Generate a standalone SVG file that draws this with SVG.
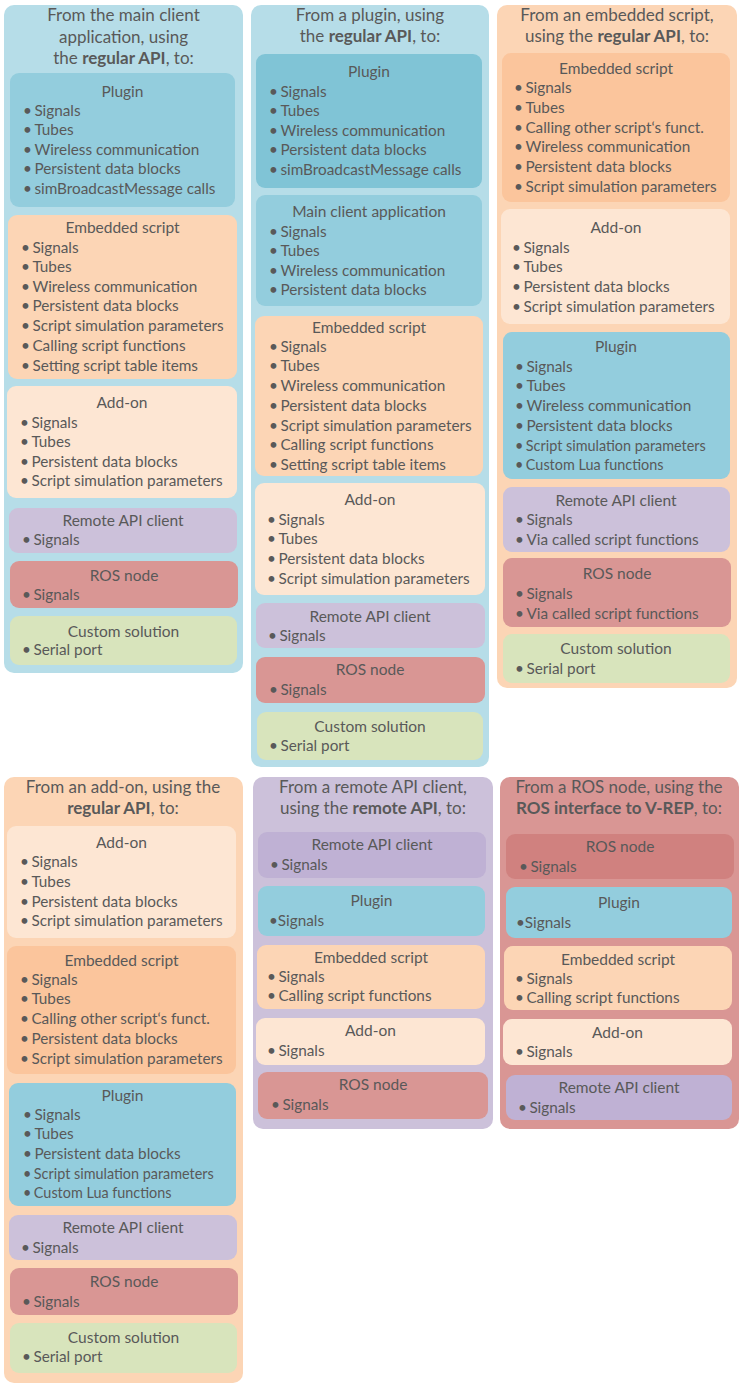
<svg xmlns="http://www.w3.org/2000/svg" width="740" height="1387" viewBox="0 0 740 1387">
<style>
text{font-family:Lato,"Liberation Sans",sans-serif;fill:#595959}
.ti{font-size:17px;text-anchor:middle}
.h{font-size:15.5px;text-anchor:middle}
.i{font-size:15.3px}
.s{font-size:14.4px}
.b{font-weight:bold}
rect{rx:9px;ry:9px}
.o{rx:10px;ry:10px}
.blue0{fill:#b6dde8}.blue1{fill:#93cddd}.blue2{fill:#80c4d6}
.or0{fill:#fcd5b5}.or1{fill:#fbc59c}.pe{fill:#fde6d3}
.pu0{fill:#ccc1da}.pu1{fill:#bfb1d4}
.ro0{fill:#d99694}.ro1{fill:#d0817f}
.gr{fill:#d8e4bc}
</style>
<rect width="740" height="1387" fill="#ffffff" style="rx:0"/>

<g id="col-main-client">
<rect class="o blue0" x="4" y="5" width="239" height="668"/>
<text class="ti" x="123.5" y="21">From the main client</text>
<text class="ti" x="123.5" y="43">application, using</text>
<text class="ti" x="123.5" y="64">the <tspan class="b">regular API</tspan>, to:</text>
<g id="mc-plugin"><rect class="blue1" x="10" y="73" width="225" height="134"/>
<text class="h" x="122.5" y="97">Plugin</text>
<text class="i" x="23" y="116">•<tspan dx="2.5">Signals</tspan></text><text class="i" x="23" y="135">•<tspan dx="2.5">Tubes</tspan></text><text class="i" x="23" y="155">•<tspan dx="2.5">Wireless communication</tspan></text><text class="i" x="23" y="174">•<tspan dx="2.5">Persistent data blocks</tspan></text><text class="i" x="23" y="194">•<tspan dx="2.5">simBroadcastMessage calls</tspan></text></g>
<g id="mc-embedded"><rect class="or0" x="8" y="215" width="229" height="164"/>
<text class="h" x="122.5" y="233">Embedded script</text>
<text class="i" x="21" y="253">•<tspan dx="2.5">Signals</tspan></text><text class="i" x="21" y="272">•<tspan dx="2.5">Tubes</tspan></text><text class="i" x="21" y="292">•<tspan dx="2.5">Wireless communication</tspan></text><text class="i" x="21" y="311">•<tspan dx="2.5">Persistent data blocks</tspan></text><text class="i" x="21" y="331">•<tspan dx="2.5">Script simulation parameters</tspan></text><text class="i" x="21" y="351">•<tspan dx="2.5">Calling script functions</tspan></text><text class="i" x="21" y="371">•<tspan dx="2.5">Setting script table items</tspan></text></g>
<g id="mc-addon"><rect class="pe" x="7" y="386" width="230" height="112"/>
<text class="h" x="122" y="408">Add-on</text>
<text class="i" x="20" y="428">•<tspan dx="2.5">Signals</tspan></text><text class="i" x="20" y="447">•<tspan dx="2.5">Tubes</tspan></text><text class="i" x="20" y="467">•<tspan dx="2.5">Persistent data blocks</tspan></text><text class="i" x="20" y="486">•<tspan dx="2.5">Script simulation parameters</tspan></text></g>
<g id="mc-remote"><rect class="pu0" x="9" y="508" width="228" height="45"/>
<text class="h" x="123" y="526">Remote API client</text><text class="i" x="22" y="545">•<tspan dx="2.5">Signals</tspan></text></g>
<g id="mc-ros"><rect class="ro0" x="10" y="561" width="228" height="47"/>
<text class="h" x="124" y="581">ROS node</text><text class="i" x="22" y="600">•<tspan dx="2.5">Signals</tspan></text></g>
<g id="mc-custom"><rect class="gr" x="10" y="616" width="227" height="49"/>
<text class="h" x="123.5" y="637">Custom solution</text><text class="i" x="22" y="655">•<tspan dx="2.5">Serial port</tspan></text></g>
</g>

<g id="col-plugin">
<rect class="o blue0" x="251" y="5" width="238" height="762"/>
<text class="ti" x="370" y="21">From a plugin, using</text>
<text class="ti" x="370" y="42">the <tspan class="b">regular API</tspan>, to:</text>
<g id="pl-plugin"><rect class="blue2" x="256" y="54" width="226" height="134"/>
<text class="h" x="369" y="77">Plugin</text>
<text class="i" x="269" y="97">•<tspan dx="2.5">Signals</tspan></text><text class="i" x="269" y="116">•<tspan dx="2.5">Tubes</tspan></text><text class="i" x="269" y="136">•<tspan dx="2.5">Wireless communication</tspan></text><text class="i" x="269" y="155">•<tspan dx="2.5">Persistent data blocks</tspan></text><text class="i" x="269" y="175">•<tspan dx="2.5">simBroadcastMessage calls</tspan></text></g>
<g id="pl-main"><rect class="blue1" x="256" y="195" width="226" height="111"/>
<text class="h" x="369" y="217">Main client application</text>
<text class="i" x="269" y="237">•<tspan dx="2.5">Signals</tspan></text><text class="i" x="269" y="256">•<tspan dx="2.5">Tubes</tspan></text><text class="i" x="269" y="276">•<tspan dx="2.5">Wireless communication</tspan></text><text class="i" x="269" y="295">•<tspan dx="2.5">Persistent data blocks</tspan></text></g>
<g id="pl-embedded"><rect class="or0" x="255" y="316" width="228" height="160"/>
<text class="h" x="369" y="333">Embedded script</text>
<text class="i" x="269" y="352">•<tspan dx="2.5">Signals</tspan></text><text class="i" x="269" y="371">•<tspan dx="2.5">Tubes</tspan></text><text class="i" x="269" y="391">•<tspan dx="2.5">Wireless communication</tspan></text><text class="i" x="269" y="411">•<tspan dx="2.5">Persistent data blocks</tspan></text><text class="i" x="269" y="431">•<tspan dx="2.5">Script simulation parameters</tspan></text><text class="i" x="269" y="450">•<tspan dx="2.5">Calling script functions</tspan></text><text class="i" x="269" y="470">•<tspan dx="2.5">Setting script table items</tspan></text></g>
<g id="pl-addon"><rect class="pe" x="255" y="483" width="230" height="112"/>
<text class="h" x="370" y="505">Add-on</text>
<text class="i" x="267" y="525">•<tspan dx="2.5">Signals</tspan></text><text class="i" x="267" y="544">•<tspan dx="2.5">Tubes</tspan></text><text class="i" x="267" y="564">•<tspan dx="2.5">Persistent data blocks</tspan></text><text class="i" x="267" y="584">•<tspan dx="2.5">Script simulation parameters</tspan></text></g>
<g id="pl-remote"><rect class="pu0" x="256" y="603" width="229" height="45"/>
<text class="h" x="370" y="622">Remote API client</text><text class="i" x="268" y="641">•<tspan dx="2.5">Signals</tspan></text></g>
<g id="pl-ros"><rect class="ro0" x="256" y="657" width="229" height="46"/>
<text class="h" x="370" y="675">ROS node</text><text class="i" x="269" y="695">•<tspan dx="2.5">Signals</tspan></text></g>
<g id="pl-custom"><rect class="gr" x="257" y="712" width="226" height="48"/>
<text class="h" x="370" y="732">Custom solution</text><text class="i" x="269" y="751">•<tspan dx="2.5">Serial port</tspan></text></g>
</g>

<g id="col-embedded">
<rect class="o or0" x="497" y="5" width="240" height="683"/>
<text class="ti" x="617" y="21">From an embedded script,</text>
<text class="ti" x="617" y="42">using the <tspan class="b">regular API</tspan>, to:</text>
<g id="es-embedded"><rect class="or1" x="502" y="53" width="228" height="149"/>
<text class="h" x="616" y="74">Embedded script</text>
<text class="i" x="514" y="93">•<tspan dx="2.5">Signals</tspan></text><text class="i" x="514" y="113">•<tspan dx="2.5">Tubes</tspan></text><text class="i" x="514" y="133">•<tspan dx="2.5">Calling other script‘s funct.</tspan></text><text class="i" x="514" y="152">•<tspan dx="2.5">Wireless communication</tspan></text><text class="i" x="514" y="172">•<tspan dx="2.5">Persistent data blocks</tspan></text><text class="i" x="514" y="192">•<tspan dx="2.5">Script simulation parameters</tspan></text></g>
<g id="es-addon"><rect class="pe" x="501" y="209" width="229" height="115"/>
<text class="h" x="616" y="233">Add-on</text>
<text class="i" x="512" y="253">•<tspan dx="2.5">Signals</tspan></text><text class="i" x="512" y="272">•<tspan dx="2.5">Tubes</tspan></text><text class="i" x="512" y="292">•<tspan dx="2.5">Persistent data blocks</tspan></text><text class="i" x="512" y="312">•<tspan dx="2.5">Script simulation parameters</tspan></text></g>
<g id="es-plugin"><rect class="blue1" x="503" y="332" width="227" height="147"/>
<text class="h" x="616" y="352">Plugin</text>
<text class="i" x="515" y="372">•<tspan dx="2.5">Signals</tspan></text><text class="i" x="515" y="391">•<tspan dx="2.5">Tubes</tspan></text><text class="i" x="515" y="411">•<tspan dx="2.5">Wireless communication</tspan></text><text class="i" x="515" y="431">•<tspan dx="2.5">Persistent data blocks</tspan></text><text class="s" x="515" y="451">•<tspan dx="2.5">Script simulation parameters</tspan></text><text class="s" x="515" y="470">•<tspan dx="2.5">Custom Lua functions</tspan></text></g>
<g id="es-remote"><rect class="pu0" x="503" y="487" width="227" height="65"/>
<text class="h" x="616" y="506">Remote API client</text><text class="i" x="515" y="525">•<tspan dx="2.5">Signals</tspan></text><text class="i" x="515" y="545">•<tspan dx="2.5">Via called script functions</tspan></text></g>
<g id="es-ros"><rect class="ro0" x="503" y="558" width="228" height="69"/>
<text class="h" x="617" y="579">ROS node</text><text class="i" x="515" y="599">•<tspan dx="2.5">Signals</tspan></text><text class="i" x="515" y="619">•<tspan dx="2.5">Via called script functions</tspan></text></g>
<g id="es-custom"><rect class="gr" x="503" y="634" width="227" height="49"/>
<text class="h" x="616" y="654">Custom solution</text><text class="i" x="515" y="674">•<tspan dx="2.5">Serial port</tspan></text></g>
</g>

<g id="col-addon">
<rect class="o or0" x="4" y="777" width="239" height="606"/>
<text class="ti" x="123" y="793">From an add-on, using the</text>
<text class="ti" x="123" y="814"><tspan class="b">regular API</tspan>, to:</text>
<g id="ad-addon"><rect class="pe" x="7" y="826" width="229" height="112"/>
<text class="h" x="121.5" y="848">Add-on</text>
<text class="i" x="20" y="867">•<tspan dx="2.5">Signals</tspan></text><text class="i" x="20" y="887">•<tspan dx="2.5">Tubes</tspan></text><text class="i" x="20" y="907">•<tspan dx="2.5">Persistent data blocks</tspan></text><text class="i" x="20" y="926">•<tspan dx="2.5">Script simulation parameters</tspan></text></g>
<g id="ad-embedded"><rect class="or1" x="7" y="946" width="229" height="128"/>
<text class="h" x="121.5" y="966">Embedded script</text>
<text class="i" x="20" y="985">•<tspan dx="2.5">Signals</tspan></text><text class="i" x="20" y="1004">•<tspan dx="2.5">Tubes</tspan></text><text class="i" x="20" y="1024">•<tspan dx="2.5">Calling other script‘s funct.</tspan></text><text class="i" x="20" y="1044">•<tspan dx="2.5">Persistent data blocks</tspan></text><text class="i" x="20" y="1064">•<tspan dx="2.5">Script simulation parameters</tspan></text></g>
<g id="ad-plugin"><rect class="blue1" x="9" y="1083" width="227" height="123"/>
<text class="h" x="122.5" y="1101">Plugin</text>
<text class="i" x="23" y="1120">•<tspan dx="2.5">Signals</tspan></text><text class="i" x="23" y="1139">•<tspan dx="2.5">Tubes</tspan></text><text class="i" x="23" y="1159">•<tspan dx="2.5">Persistent data blocks</tspan></text><text class="s" x="23" y="1179">•<tspan dx="2.5">Script simulation parameters</tspan></text><text class="s" x="23" y="1198">•<tspan dx="2.5">Custom Lua functions</tspan></text></g>
<g id="ad-remote"><rect class="pu0" x="9" y="1215" width="228" height="45"/>
<text class="h" x="123" y="1233">Remote API client</text><text class="i" x="21" y="1253">•<tspan dx="2.5">Signals</tspan></text></g>
<g id="ad-ros"><rect class="ro0" x="10" y="1268" width="228" height="47"/>
<text class="h" x="124" y="1287">ROS node</text><text class="i" x="22" y="1307">•<tspan dx="2.5">Signals</tspan></text></g>
<g id="ad-custom"><rect class="gr" x="10" y="1323" width="227" height="50"/>
<text class="h" x="123.5" y="1343">Custom solution</text><text class="i" x="22" y="1362">•<tspan dx="2.5">Serial port</tspan></text></g>
</g>

<g id="col-remote">
<rect class="o pu0" x="253" y="777" width="240" height="352"/>
<text class="ti" x="373" y="793">From a remote API client,</text>
<text class="ti" x="373" y="814">using the <tspan class="b">remote API</tspan>, to:</text>
<g id="ra-remote"><rect class="pu1" x="258" y="832" width="228" height="46"/>
<text class="h" x="372" y="850">Remote API client</text><text class="i" x="270" y="870">•<tspan dx="2.5">Signals</tspan></text></g>
<g id="ra-plugin"><rect class="blue1" x="258" y="886" width="227" height="50"/>
<text class="h" x="371.5" y="906">Plugin</text><text class="i" x="269" y="926">•Signals</text></g>
<g id="ra-embedded"><rect class="or0" x="257" y="945" width="228" height="64"/>
<text class="h" x="371" y="963">Embedded script</text><text class="i" x="267" y="982">•<tspan dx="2.5">Signals</tspan></text><text class="i" x="267" y="1001">•<tspan dx="2.5">Calling script functions</tspan></text></g>
<g id="ra-addon"><rect class="pe" x="256" y="1018" width="229" height="47"/>
<text class="h" x="370.5" y="1036">Add-on</text><text class="i" x="267" y="1056">•<tspan dx="2.5">Signals</tspan></text></g>
<g id="ra-ros"><rect class="ro0" x="258" y="1072" width="230" height="47"/>
<text class="h" x="373" y="1090">ROS node</text><text class="i" x="271" y="1110">•<tspan dx="2.5">Signals</tspan></text></g>
</g>

<g id="col-ros">
<rect class="o ro0" x="500" y="777" width="239" height="352"/>
<text class="ti" x="619" y="793">From a ROS node, using the</text>
<text class="ti" x="619" y="814"><tspan class="b">ROS interface to V-REP</tspan>, to:</text>
<g id="rs-ros"><rect class="ro1" x="506" y="834" width="228" height="45"/>
<text class="h" x="620" y="852">ROS node</text><text class="i" x="519" y="872">•<tspan dx="2.5">Signals</tspan></text></g>
<g id="rs-plugin"><rect class="blue1" x="506" y="887" width="226" height="51"/>
<text class="h" x="619" y="908">Plugin</text><text class="i" x="516" y="928">•Signals</text></g>
<g id="rs-embedded"><rect class="or0" x="504" y="946" width="228" height="64"/>
<text class="h" x="618" y="965">Embedded script</text><text class="i" x="515" y="984">•<tspan dx="2.5">Signals</tspan></text><text class="i" x="515" y="1003">•<tspan dx="2.5">Calling script functions</tspan></text></g>
<g id="rs-addon"><rect class="pe" x="503" y="1019" width="229" height="46"/>
<text class="h" x="617.5" y="1038">Add-on</text><text class="i" x="515" y="1057">•<tspan dx="2.5">Signals</tspan></text></g>
<g id="rs-remote"><rect class="pu1" x="506" y="1075" width="226" height="45"/>
<text class="h" x="619" y="1093">Remote API client</text><text class="i" x="518" y="1113">•<tspan dx="2.5">Signals</tspan></text></g>
</g>
</svg>
